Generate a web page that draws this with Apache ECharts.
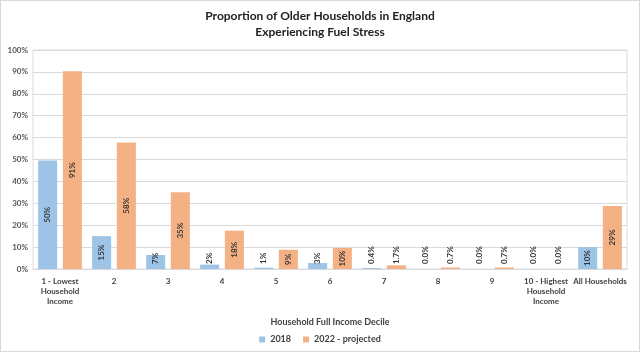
<!DOCTYPE html>
<html>
<head>
<meta charset="utf-8">
<script src="https://cdn.jsdelivr.net/npm/echarts@6/dist/echarts.min.js"></script>
<style>
html,body{margin:0;padding:0;background:#fff;}
#c{position:absolute;left:0;top:0;width:638px;height:350px;border:1px solid #d9d9d9;}
</style>
</head>
<body>
<div id="c"></div>
<script>
const categories = ['1 - Lowest\nHousehold\nIncome','2','3','4','5','6','7','8','9','10 - Highest\nHousehold\nIncome','All Households'];
const values2018 = [49.5, 15, 6.4, 2, 0.6, 2.7, 0.4, 0, 0, 0, 10];
const labels2018 = ['50%','15%','7%','2%','1%','3%','0.4%','0.0%','0.0%','0.0%','10%'];
const values2022 = [90.3, 57.8, 35, 17.5, 8.8, 9.6, 1.7, 0.7, 0.7, 0, 28.8];
const labels2022 = ['91%','58%','35%','18%','9%','10%','1.7%','0.7%','0.7%','0.0%','29%'];
const yTicks = [0,10,20,30,40,50,60,70,80,90,100];

const FONT = 'Lato';
function makeData(vals, labs){
  return vals.map((v,i)=>{
    const big = v >= 8;
    return {
      value: v,
      label: big ? {
        show:true, position:'inside', rotate:90, formatter: labs[i],
        align:'center', verticalAlign:'middle'
      } : {
        show:true, position:'insideBottom', distance:5, rotate:90, formatter: labs[i],
        align:'left', verticalAlign:'middle'
      }
    };
  });
}
const labelStyle = {fontFamily:FONT, fontSize:8, fontWeight:'bold', color:'#333'};

const chart = echarts.init(document.getElementById('c'), null, {renderer:'canvas'});
chart.setOption({
  animation:false,
  backgroundColor:'#fff',
  title:{
    text:'Proportion of Older Households in England\nExperiencing Fuel Stress',
    left:'center', top:2,
    textStyle:{fontFamily:FONT, fontSize:12, fontWeight:'bold', color:'#222', lineHeight:16}
  },
  legend:{
    bottom:2, left:'center', itemWidth:6, itemHeight:6, itemGap:12, icon:'rect',
    textStyle:{fontFamily:FONT, fontSize:9, fontWeight:'bold', color:'#404040'},
    data:['2018','2022 - projected']
  },
  grid:{left:32, right:12, top:49, bottom:82, show:true, borderColor:'#d6dde8', borderWidth:1},
  xAxis:{
    type:'category', data:categories,
    name:'Household Full Income Decile', nameLocation:'middle', nameGap:49,
    nameTextStyle:{fontFamily:FONT, fontSize:9, fontWeight:'bold', color:'#404040'},
    axisLine:{show:true, lineStyle:{color:'#d9d9d9'}},
    axisTick:{show:false},
    axisLabel:{interval:0, fontFamily:FONT, fontSize:8, fontWeight:'bold', color:'#404040', lineHeight:10, margin:7}
  },
  yAxis:{
    type:'value', min:0, max:100, interval:10,
    axisLabel:{formatter:v=>v+'%', fontFamily:FONT, fontSize:8, fontWeight:'bold', color:'#555', margin:5},
    splitLine:{lineStyle:{color:'#d9d9d9'}},
    axisLine:{show:false}, axisTick:{show:false}
  },
  series:[
    {name:'2018', type:'bar', data:makeData(values2018, labels2018), barGap:'30%', barCategoryGap:'19%',
     itemStyle:{color:'#9dc3e6'}, label:labelStyle},
    {name:'2022 - projected', type:'bar', data:makeData(values2022, labels2022), barGap:'30%', barCategoryGap:'19%',
     itemStyle:{color:'#f4b183'}, label:labelStyle}
  ]
});
</script>
</body>
</html>
